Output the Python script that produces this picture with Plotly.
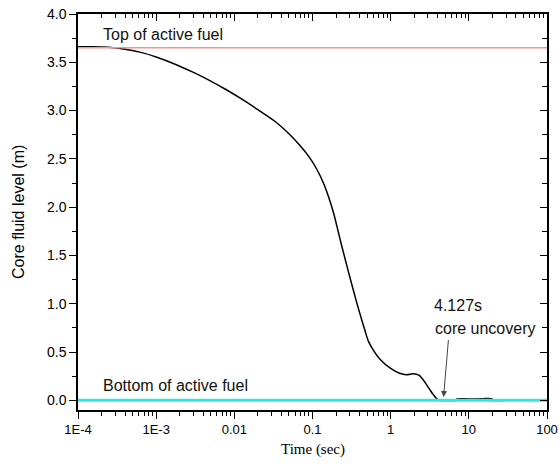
import plotly.graph_objects as go
import math

# ---- data ----
time_s = [1e-4, 1.5e-4, 2.44e-4, 4e-4, 6.55e-4, 1e-3, 1.75e-3, 3e-3, 4.66e-3, 8e-3,
          0.0125, 0.02, 0.0333, 0.05, 0.0696, 0.09, 0.114, 0.138, 0.16, 0.186, 0.21, 0.238,
          0.27, 0.304, 0.36, 0.41, 0.47, 0.52, 0.60, 0.74, 1.0, 1.3, 1.6, 1.95,
          2.3, 2.62, 3.0, 3.5, 3.9, 4.127, 5.0, 6.9, 7.06, 10,
          15, 18, 19.8, 20.2, 30, 100]
level_m = [3.66, 3.66, 3.655, 3.635, 3.60, 3.555, 3.48, 3.395, 3.318, 3.213,
           3.118, 3.01, 2.887, 2.76, 2.635, 2.523, 2.39, 2.25, 2.11, 1.94, 1.77, 1.59,
           1.42, 1.26, 1.04, 0.88, 0.72, 0.61, 0.52, 0.42, 0.33, 0.28, 0.265, 0.275,
           0.26, 0.21, 0.14, 0.06, 0.015, 0.0, 0.0, 0.0, 0.015, 0.015,
           0.017, 0.02, 0.015, 0.0, 0.0, 0.0]
top_fuel = 3.65
bottom_fuel = 0.0
x_range = [1e-4, 100]
x_tickvals = [1e-4, 1e-3, 0.01, 0.1, 1, 10, 100]
x_ticktext = ["1E-4", "1E-3", "0.01", "0.1", "1", "10", "100"]
uncovery_time = 4.127

SANS = "Liberation Sans, Arial, sans-serif"
SERIF = "Liberation Serif, Times New Roman, serif"

fig = go.Figure()
fig.add_trace(go.Scatter(x=time_s, y=level_m, mode="lines",
                         line=dict(color="black", width=1.5, shape="spline", smoothing=0.7),
                         showlegend=False, hoverinfo="skip"))
fig.add_trace(go.Scatter(x=x_range, y=[top_fuel, top_fuel], mode="lines",
                         line=dict(color="#ff9090", width=1.5), showlegend=False, hoverinfo="skip"))
fig.add_trace(go.Scatter(x=x_range, y=[bottom_fuel, bottom_fuel], mode="lines",
                         line=dict(color="#33e6e6", width=3), showlegend=False, hoverinfo="skip"))
# helper trace for the mirrored (inside-tick) top/right axes
fig.add_trace(go.Scatter(x=x_range, y=[-0.1, 4.0], mode="lines", xaxis="x2", yaxis="y2",
                         line=dict(width=0, color="rgba(0,0,0,0)"), showlegend=False, hoverinfo="skip"))

xr = [math.log10(x_range[0]), math.log10(x_range[1])]
common = dict(showline=True, linecolor="black", linewidth=1.5, showgrid=False,
              zeroline=False, automargin=False, tickwidth=1, tickcolor="black", ticklen=7)

fig.update_layout(
    width=560, height=467,
    margin=dict(l=78, r=13, t=14, b=57, autoexpand=False),
    paper_bgcolor="white", plot_bgcolor="white",
    font=dict(family=SANS, color="black"),
    xaxis=dict(type="log", range=xr, tickvals=x_tickvals, ticktext=x_ticktext,
               ticks="outside", tickfont=dict(size=13, family=SANS),
               minor=dict(ticks="outside", ticklen=4, tickwidth=1, tickcolor="black", dtick="D1", showgrid=False),
               **common),
    yaxis=dict(range=[-0.1, 4.0], tick0=0, dtick=0.5, tickformat=".1f",
               ticks="outside", tickfont=dict(size=14, family=SANS),
               minor=dict(ticks="outside", ticklen=4, tickwidth=1, tickcolor="black", dtick=0.25, showgrid=False),
               **common),
    xaxis2=dict(type="log", range=xr, overlaying="x", side="top", anchor="y2",
                tickvals=x_tickvals, showticklabels=False, ticks="inside",
                minor=dict(ticks="inside", ticklen=4, tickwidth=1, tickcolor="black", dtick="D1", showgrid=False),
                **common),
    yaxis2=dict(range=[-0.1, 4.0], overlaying="y", side="right", anchor="x2",
                tick0=0, dtick=0.5, showticklabels=False, ticks="inside",
                minor=dict(ticks="inside", ticklen=5, tickwidth=1, tickcolor="black", dtick=0.25, showgrid=False),
                **common),
)

ann_font = dict(family=SANS, size=16, color="#111")
fig.add_annotation(text="Top of active fuel", xref="paper", yref="paper", x=0.049, y=0.948,
                   xanchor="left", yanchor="middle", showarrow=False, font=ann_font)
fig.add_annotation(text="Bottom of active fuel", xref="paper", yref="paper", x=0.048, y=0.061,
                   xanchor="left", yanchor="middle", showarrow=False, font=ann_font)
fig.add_annotation(text="%.3fs" % uncovery_time, xref="paper", yref="paper", x=0.755, y=0.264,
                   xanchor="left", yanchor="middle", showarrow=False, font=ann_font)
fig.add_annotation(text="core uncovery", xref="paper", yref="paper", x=0.757, y=0.207,
                   xanchor="left", yanchor="middle", showarrow=False, font=ann_font)
fig.add_annotation(x=math.log10(4.75), y=0.035, xref="x", yref="y",
                   ax=math.log10(5.5), ay=0.64, axref="x", ayref="y",
                   text="", showarrow=True, arrowhead=2, arrowsize=1.2, arrowwidth=1,
                   arrowcolor="#444")
fig.add_annotation(text="Core fluid level (m)", xref="paper", yref="paper", x=-0.128, y=0.5,
                   xanchor="center", yanchor="middle", textangle=-90, showarrow=False,
                   font=dict(family=SANS, size=16, color="black"))
fig.add_annotation(text="Time (sec)", xref="paper", yref="paper", x=0.5, y=-0.099,
                   xanchor="center", yanchor="middle", showarrow=False,
                   font=dict(family=SERIF, size=15, color="black"))

fig.write_html("out.html")
